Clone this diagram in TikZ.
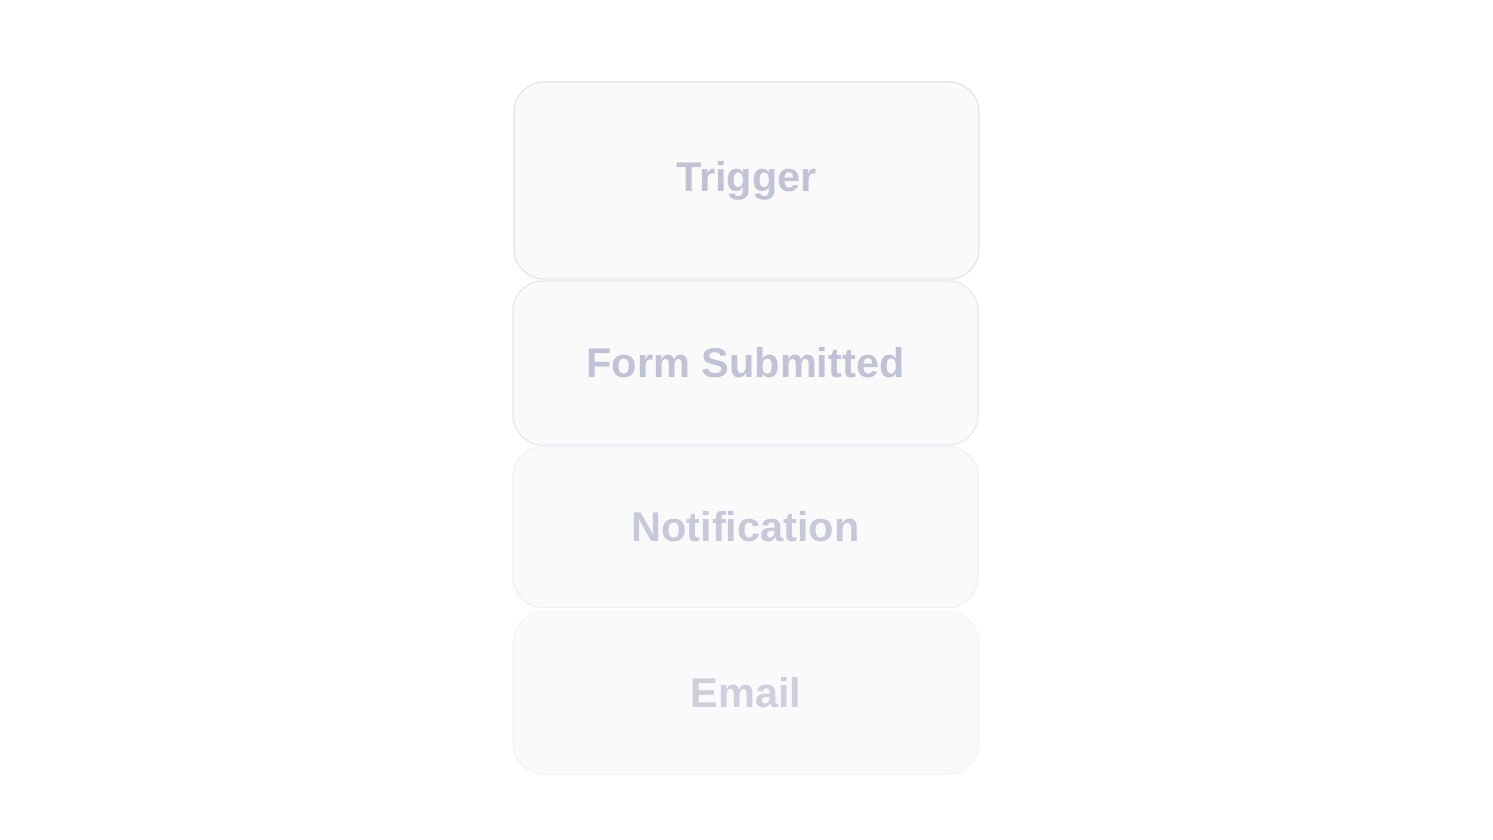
\documentclass[tikz,border=0pt]{standalone}
\usepackage{fontspec}
\setmainfont{Liberation Sans}
\usepackage{tikz}
\usetikzlibrary{positioning}
\definecolor{cardfill}{RGB}{250,250,251}
\definecolor{cardline}{RGB}{227,228,236}
\definecolor{cardtext}{RGB}{192,195,213}

\begin{document}
\begin{tikzpicture}[x=1pt, y=-1pt,
    card/.style={rectangle, rounded corners=30pt, fill=cardfill, draw=cardline,
        line width=1.2pt, minimum width=465pt, inner sep=0pt,
        font=\fontsize{41.5}{50}\selectfont\bfseries, text=cardtext}]
    % Background
    \useasboundingbox (0,0) rectangle (1493,840);
    \fill[white] (0,0) rectangle (1493,840);

    % Stacked cards
    \node[card, minimum height=197pt] (trigger) at (746.5,180.5) {Trigger};
    \node[card, minimum height=164pt, draw=cardline!85] (form) at (745.5,363) {Form Submitted};
    \node[card, minimum height=161pt, draw=cardline!55, text=cardtext!90] (notify) at (745.5,527) {Notification};
    \node[card, minimum height=162pt, draw=cardline!40, text=cardtext!80] (email) at (746,693) {Email};
\end{tikzpicture}
\end{document}
